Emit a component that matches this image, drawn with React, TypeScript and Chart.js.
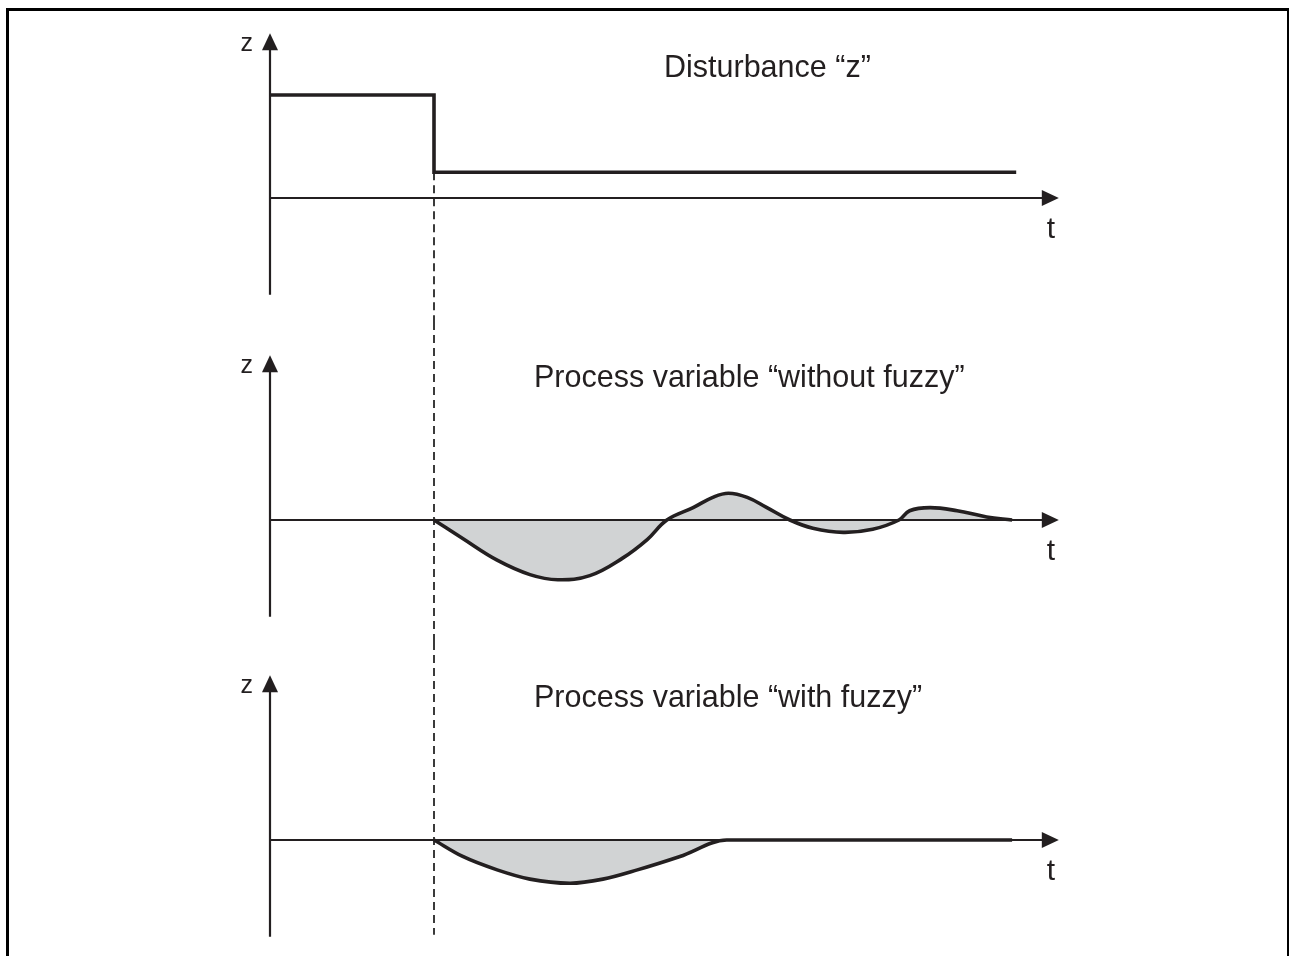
import React, { useEffect, useRef } from "react";
import { Chart, registerables } from "chart.js";

Chart.register(...registerables);

// ---------- data (time t in arbitrary units, z in arbitrary units) ----------
const STEP_TIME = 2;

const DISTURBANCE_T = [0, 2, 2, 9.1];
const DISTURBANCE_Z = [1, 1, 0.25, 0.25];

const WITHOUT_FUZZY_T = [2, 2.35, 2.77, 3.17, 3.51, 3.9, 4.3, 4.6, 4.84, 5.16, 5.4, 5.59, 5.82, 6.06, 6.34, 6.62, 6.99, 7.35, 7.67, 7.8, 8.05, 8.38, 8.74, 9.05];
const WITHOUT_FUZZY_Z = [0, -0.18, -0.39, -0.53, -0.58, -0.54, -0.37, -0.19, 0, 0.12, 0.22, 0.26, 0.22, 0.12, 0, -0.08, -0.12, -0.09, 0, 0.09, 0.12, 0.09, 0.03, 0];

const WITH_FUZZY_T = [2, 2.35, 2.77, 3.17, 3.66, 4.06, 4.48, 5.0, 5.57, 9.05];
const WITH_FUZZY_Z = [0, -0.16, -0.29, -0.38, -0.42, -0.38, -0.29, -0.16, 0, 0];

const TITLES = ["Disturbance “z”", "Process variable “without fuzzy”", "Process variable “with fuzzy”"];
const Y_LABEL = "z";
const X_LABEL = "t";

// ---------- layout / style ----------
const W = 1289;
const H = 956;
const PX_PER_T = 82;
const PX_PER_Z = 103;
const ORIGIN_X = 270;
const AXIS_LOCAL_Y = 198;
const T_AXIS_END = 9.62;
const Z_AXIS_TOP = 1.6;
const Z_AXIS_BOTTOM = -0.94;
const INK = "#231f20";
const FILL = "#d1d3d4";
const FONT = '"Liberation Sans", Arial, Helvetica, sans-serif';

type PanelDef = {
  top: number;
  height: number;
  t: number[];
  z: number[];
  filled: boolean;
  smooth: "tension" | "monotone" | "none";
  title: string;
  titleT: number;
  titleZ: number;
  dashFrom: number | null;
  dashTo: number | null;
};

const PANELS: PanelDef[] = [
  { top: 0, height: 322, t: DISTURBANCE_T, z: DISTURBANCE_Z, filled: false, smooth: "none", title: TITLES[0], titleT: (664 - ORIGIN_X) / PX_PER_T, titleZ: 121 / PX_PER_Z, dashFrom: 0.25, dashTo: null },
  { top: 322, height: 320, t: WITHOUT_FUZZY_T, z: WITHOUT_FUZZY_Z, filled: true, smooth: "tension", title: TITLES[1], titleT: (534 - ORIGIN_X) / PX_PER_T, titleZ: 133 / PX_PER_Z, dashFrom: null, dashTo: null },
  { top: 642, height: 314, t: WITH_FUZZY_T, z: WITH_FUZZY_Z, filled: true, smooth: "monotone", title: TITLES[2], titleT: (534 - ORIGIN_X) / PX_PER_T, titleZ: 133 / PX_PER_Z, dashFrom: null, dashTo: -0.92 },
];

function Panel({ def }: { def: PanelDef }) {
  const ref = useRef<HTMLCanvasElement>(null);
  useEffect(() => {
    const canvas = ref.current!;
    const diagramPlugin = {
      id: "diagram",
      beforeDatasetsDraw(chart: any) {
        const { ctx, scales } = chart;
        const x = scales.x;
        const y = scales.y;
        const xs = Math.round(x.getPixelForValue(STEP_TIME));
        const y1 = def.dashFrom === null ? 0 : y.getPixelForValue(def.dashFrom);
        const y2 = def.dashTo === null ? chart.height : y.getPixelForValue(def.dashTo);
        ctx.save();
        ctx.strokeStyle = "#3a3a3a";
        ctx.lineWidth = 2;
        ctx.setLineDash([8, 5]);
        ctx.beginPath();
        ctx.moveTo(xs, y1);
        ctx.lineTo(xs, y2);
        ctx.stroke();
        ctx.restore();
      },
      afterDatasetsDraw(chart: any) {
        const { ctx, scales } = chart;
        const x = scales.x;
        const y = scales.y;
        const x0 = x.getPixelForValue(0);
        const y0 = y.getPixelForValue(0);
        const yTop = y.getPixelForValue(Z_AXIS_TOP);
        const yBot = y.getPixelForValue(Z_AXIS_BOTTOM);
        const xEnd = x.getPixelForValue(T_AXIS_END);
        const AL = 17;
        const AW = 8;
        ctx.save();
        ctx.strokeStyle = INK;
        ctx.fillStyle = INK;
        ctx.lineWidth = 2.2;
        ctx.beginPath();
        ctx.moveTo(x0, yBot);
        ctx.lineTo(x0, yTop + AL - 2);
        ctx.moveTo(x0, y0);
        ctx.lineTo(xEnd - AL + 2, y0);
        ctx.stroke();
        ctx.beginPath();
        ctx.moveTo(x0, yTop);
        ctx.lineTo(x0 - AW, yTop + AL);
        ctx.lineTo(x0 + AW, yTop + AL);
        ctx.closePath();
        ctx.fill();
        ctx.beginPath();
        ctx.moveTo(xEnd, y0);
        ctx.lineTo(xEnd - AL, y0 - AW);
        ctx.lineTo(xEnd - AL, y0 + AW);
        ctx.closePath();
        ctx.fill();

        ctx.textBaseline = "alphabetic";
        ctx.font = `25px ${FONT}`;
        ctx.textAlign = "right";
        ctx.fillText(Y_LABEL, x0 - 17, yTop + 18);
        ctx.font = `30px ${FONT}`;
        ctx.textAlign = "center";
        ctx.fillText(X_LABEL, xEnd - 8, y0 + 40);
        ctx.font = `30.5px ${FONT}`;
        ctx.textAlign = "left";
        ctx.fillText(def.title, x.getPixelForValue(def.titleT), y.getPixelForValue(def.titleZ));
        ctx.restore();
      },
    };

    const chart = new Chart(canvas, {
      type: "line",
      data: {
        datasets: [
          {
            data: def.t.map((t, i) => ({ x: t, y: def.z[i] })),
            borderColor: INK,
            borderWidth: 3.6,
            backgroundColor: FILL,
            fill: def.filled ? "origin" : false,
            tension: def.smooth === "tension" ? 0.4 : 0,
            cubicInterpolationMode: def.smooth === "monotone" ? "monotone" : "default",
            pointRadius: 0,
            borderJoinStyle: "miter",
          } as any,
        ],
      },
      options: {
        animation: false,
        responsive: false,
        maintainAspectRatio: false,
        events: [],
        layout: { padding: 0 },
        plugins: { legend: { display: false }, tooltip: { enabled: false } },
        scales: {
          x: { type: "linear", display: false, min: -ORIGIN_X / PX_PER_T, max: (W - ORIGIN_X) / PX_PER_T },
          y: { type: "linear", display: false, min: -(def.height - AXIS_LOCAL_Y) / PX_PER_Z, max: AXIS_LOCAL_Y / PX_PER_Z },
        },
      },
      plugins: [diagramPlugin],
    });
    return () => chart.destroy();
  }, [def]);
  return (
    <canvas
      ref={ref}
      width={W}
      height={def.height}
      style={{ position: "absolute", left: 0, top: def.top, width: W, height: def.height, display: "block" }}
    />
  );
}

export default function App() {
  return (
    <div style={{ position: "absolute", left: 0, top: 0, width: W, height: H, overflow: "hidden", background: "#fff" }}>
      <div
        style={{
          position: "absolute",
          left: 6,
          top: 8,
          width: W - 6 - 3 - 2,
          height: H + 40,
          borderLeft: "3px solid #000",
          borderTop: "3px solid #000",
          borderRight: "2px solid #000",
        }}
      />
      {PANELS.map((p, i) => (
        <Panel key={i} def={p} />
      ))}
    </div>
  );
}
